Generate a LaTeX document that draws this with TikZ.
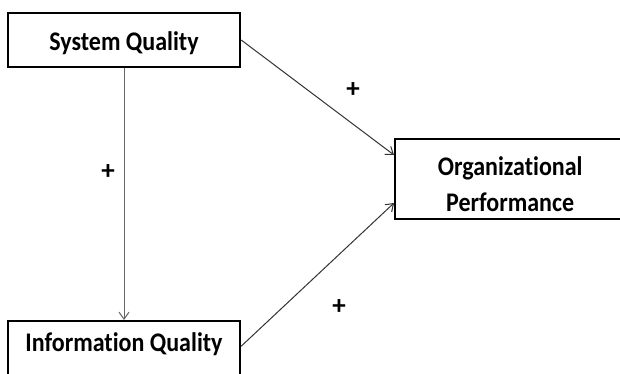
\documentclass[tikz,border=0pt]{standalone}
\usepackage{fontspec}
\usepackage{graphicx}
\setmainfont[Ligatures=NoCommon]{Carlito}
\usetikzlibrary{arrows.meta}
\newcommand{\vstretch}[1]{\scalebox{1}[1.12]{#1}}
\tikzset{
  boxnode/.style={draw=black, line width=2.4pt, inner sep=0pt, font=\bfseries\fontsize{24}{32}\selectfont, align=center},
  conn/.style={line width=1pt, draw=black!80, -{Straight Barb[length=7pt,width=10pt,line width=1pt]}},
  vconn/.style={conn, draw=black!60},
  plus/.style={font=\bfseries\fontsize{27}{30}\selectfont, inner sep=0pt}
}
\begin{document}
\begin{tikzpicture}[x=1pt,y=-1pt]
\useasboundingbox (0,0) rectangle (620,373);
\begin{scope}
\clip (0,0) rectangle (620,373);
\node[boxnode, minimum width=232pt, minimum height=54pt, text height=20pt, text depth=0pt] (sq) at (124,40) {\vstretch{System Quality}};
\node[boxnode, anchor=north, minimum width=232pt, text height=30pt, text depth=30pt] (iq) at (124,320) {\vstretch{Information Quality}};
\node[boxnode, anchor=west, minimum width=230pt, minimum height=80pt, text height=64pt, text depth=0pt] (org) at (394,179) {\vstretch{\begin{tabular}[b]{@{}c@{}}Organizational\\Performance\end{tabular}}};
\draw[vconn] (sq.south) -- (iq.north);
\draw[conn] (sq.east) -- ([yshift=24pt]org.west);
\draw[conn] ([yshift=5pt]iq.east) -- ([yshift=-24pt]org.west);
\node[plus] (p1) at (108,172) {+};
\node[plus] (p2) at (353,90) {+};
\node[plus] (p3) at (339,307) {+};
\end{scope}
\end{tikzpicture}
\end{document}
